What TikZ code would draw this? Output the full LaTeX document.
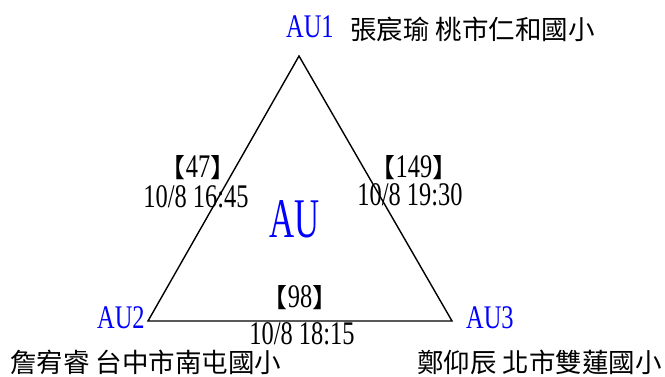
\documentclass[tikz,border=0pt]{standalone}
\usepackage{fontspec}
\setmainfont{Liberation Serif}[FakeStretch=0.74]
\newfontfamily\bigau{Liberation Serif}[FakeStretch=0.62]
\newfontfamily\cjk{Noto Sans CJK TC}
\newcommand\lbk{{\cjk\fontsize{26}{26}\selectfont 【}}
\newcommand\rbk{{\cjk\fontsize{26}{26}\selectfont 】}}
\begin{document}
\begin{tikzpicture}[x=1pt,y=-1pt,
  lbl/.style={inner sep=0pt, font=\fontsize{33}{33}\selectfont},
  au/.style={lbl, text=blue},
  zh/.style={inner sep=0pt, font=\cjk\fontsize{26.5}{26.5}\selectfont},
  edge/.style={line width=1.4pt, line join=miter}]
\useasboundingbox (0,0) rectangle (665,376);
\coordinate (A) at (299,56);
\coordinate (B) at (148,321);
\coordinate (C) at (452,321);
\draw[edge] (A) -- (B) -- (C) -- cycle;
% vertex labels
\node[au, anchor=base west] (au1) at (286,37) {AU1};
\node[zh, anchor=west] (n1) at (350,29) {張宸瑜 桃市仁和國小};
\node[au, anchor=base west] (au2) at (97,328) {AU2};
\node[zh, anchor=west] (n2) at (10,362) {詹宥睿 台中市南屯國小};
\node[au, anchor=base west] (au3) at (466,328) {AU3};
\node[zh, anchor=east] (n3) at (662,362) {鄭仰辰 北市雙蓮國小};
% centre
\node[au, anchor=base, font=\bigau\fontsize{56}{56}\selectfont] (au) at (295,237) {AU};
% edge labels
\node[lbl, anchor=base] (c47) at (198,177) {\lbk 47\rbk};
\node[lbl, anchor=base] (t47) at (196,207) {10/8 16:45};
\node[lbl, anchor=base] (c149) at (414,177) {\lbk 149\rbk};
\node[lbl, anchor=base] (t149) at (410,205) {10/8 19:30};
\node[lbl, anchor=base] (c98) at (300,307) {\lbk 98\rbk};
\node[lbl, anchor=base] (t98) at (302,344) {10/8 18:15};
\end{tikzpicture}
\end{document}
